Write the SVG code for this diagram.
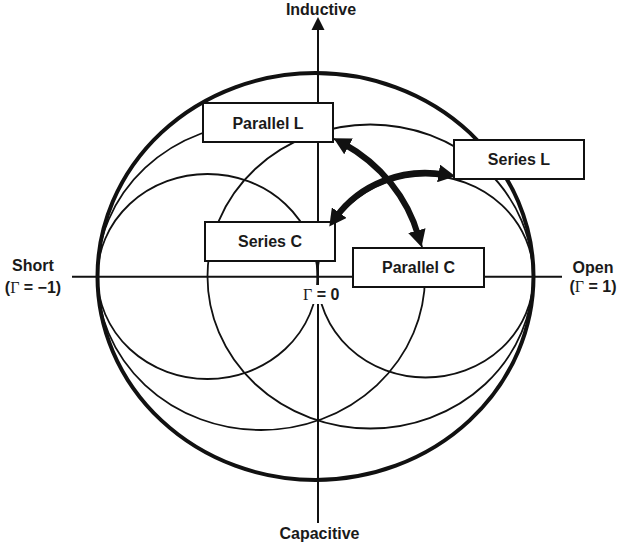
<svg xmlns="http://www.w3.org/2000/svg" width="623" height="553" viewBox="0 0 623 553">
<style>
.thin{fill:none;stroke:#111;stroke-width:1.8}
.outer{fill:none;stroke:#111;stroke-width:4}
.axis{stroke:#111;stroke-width:2;fill:none}
.box{fill:#fff;stroke:#111;stroke-width:2}
.lbl{font-family:"Liberation Sans",Arial,sans-serif;font-weight:bold;font-size:16px;fill:#1a1a1a;text-anchor:middle}
.g{font-family:"Liberation Serif","Times New Roman",serif;font-weight:normal}
.arr{fill:none;stroke:#111;stroke-width:6}
</style>
<defs>
<marker id="ah" viewBox="0 0 17 18" refX="6" refY="9" markerWidth="17" markerHeight="18" markerUnits="userSpaceOnUse" orient="auto-start-reverse">
<path d="M0,0 L17,9 L0,18 Z" fill="#111"/>
</marker>
</defs>
<g id="chart">
<ellipse class="outer" cx="315.5" cy="276.5" rx="218" ry="203.5"/>
<ellipse class="thin" cx="207.5" cy="276.5" rx="110" ry="102.5"/>
<ellipse class="thin" cx="425.5" cy="276.5" rx="108" ry="101"/>
<ellipse class="thin" cx="261" cy="276.5" rx="164" ry="153.5"/>
<ellipse class="thin" cx="370.25" cy="276.5" rx="162.75" ry="152"/>
</g>
<g id="axes">
<line class="axis" x1="72" y1="276.7" x2="562" y2="276.7"/>
<line class="axis" x1="318" y1="29" x2="318" y2="523"/>
<polygon points="318,17 311.5,30 324.5,30" fill="#111"/>
</g>
<g id="origin">
<rect x="301" y="285" width="41" height="19" fill="#fff"/>
<text class="lbl" x="303" y="300" style="text-anchor:start"><tspan class="g">Γ</tspan> = 0</text>
</g>
<g id="node-parallel-l">
<rect class="box" x="203" y="103" width="130" height="39"/>
<text class="lbl" x="268" y="128.5">Parallel L</text>
</g>
<g id="node-series-c">
<rect class="box" x="205" y="222" width="130" height="39"/>
<text class="lbl" x="270" y="247.3">Series C</text>
</g>
<g id="node-series-l">
<rect class="box" x="454" y="140" width="130" height="39"/>
<text class="lbl" x="519" y="165.3">Series L</text>
</g>
<g id="node-parallel-c">
<rect class="box" x="353" y="248" width="131" height="39"/>
<text class="lbl" x="418.5" y="273.3">Parallel C</text>
</g>
<g id="connectors">
<path class="arr" d="M343.3,143.5 A164 153.5 0 0 1 418.5,236.4" marker-start="url(#ah)" marker-end="url(#ah)"/>
<path class="arr" d="M335.7,217.5 A108 101 0 0 1 444.5,174.5" marker-start="url(#ah)" marker-end="url(#ah)"/>
</g>
<g id="labels">
<text class="lbl" x="321" y="15">Inductive</text>
<text class="lbl" x="319.5" y="539">Capacitive</text>
<text class="lbl" x="33" y="271">Short</text>
<text class="lbl" x="33" y="293">(<tspan class="g">Γ</tspan> = −1)</text>
<text class="lbl" x="593" y="273">Open</text>
<text class="lbl" x="593" y="292">(<tspan class="g">Γ</tspan> = 1)</text>
</g>
</svg>
